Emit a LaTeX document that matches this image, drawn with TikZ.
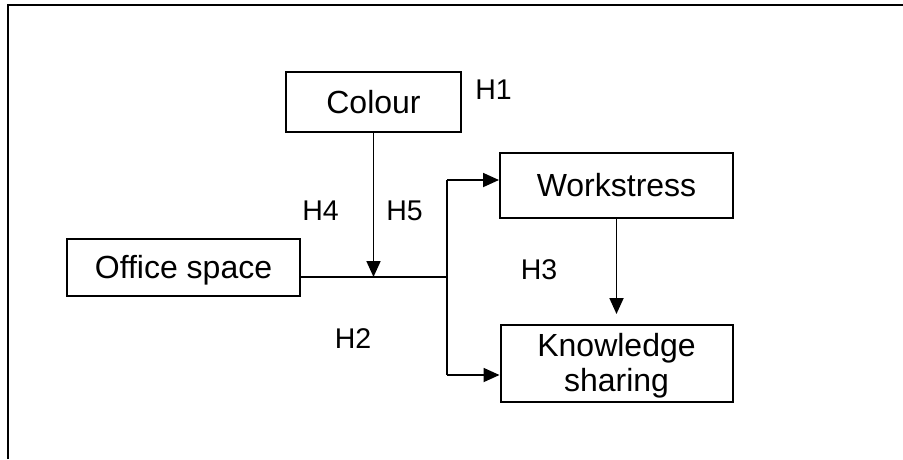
\documentclass[tikz,border=0pt]{standalone}
\usepackage{fontspec}
\setmainfont{Liberation Sans}
\usetikzlibrary{arrows.meta}
\tikzset{
  boxnode/.style={draw=black, line width=2pt, rectangle, inner sep=0pt},
  boxtext/.style={font=\fontsize{32}{35}\selectfont, inner sep=0pt, text height=22.5pt, text depth=0pt},
  hlabel/.style={font=\fontsize{28.5}{32}\selectfont, inner sep=0pt, text height=20pt, text depth=0pt},
  conn/.style={line width=1.8pt},
  arr/.style={line width=1.8pt, -{Triangle[length=16pt,width=14pt]}},
}
\begin{document}
\begin{tikzpicture}[x=1pt,y=-1pt]
\useasboundingbox (0,0) rectangle (903,459);
% outer frame (left and top edges)
\draw[line width=2.2pt] (8,459) -- (8,5) -- (903,5);

% boxes
\node[boxnode, minimum width=175pt, minimum height=60pt] (colour) at (373.5,102) {};
\node[boxtext] (colourt) at (colour) {Colour};
\node[boxnode, minimum width=233pt, minimum height=57pt] (office) at (183.5,267.5) {};
\node[boxtext] (officet) at (office) {Office space};
\node[boxnode, minimum width=233pt, minimum height=65pt] (work) at (616.5,185.5) {};
\node[boxtext] (workt) at (work) {Workstress};
\node[boxnode, minimum width=232pt, minimum height=77pt] (know) at (616.5,363.5) {};
\node[font=\fontsize{32}{35}\selectfont, inner sep=0pt, align=center, yshift=-2pt] (knowt) at (know) {Knowledge\\sharing};

% hypothesis labels
\node[hlabel] (h1) at (493.5,89.5) {H1};
\node[hlabel] (h4) at (320.5,210) {H4};
\node[hlabel] (h5) at (404.5,210) {H5};
\node[hlabel] (h3) at (539,269) {H3};
\node[hlabel] (h2) at (353,338) {H2};

% junction coordinates
\coordinate (j1) at (373.5,277);
\coordinate (j2) at (447,277);
\coordinate (wt) at (447,180);
\coordinate (kb) at (447,375);

% connectors
\draw[conn, line width=1.4pt] (office.east |- j2) -- (j2);
\draw[arr] (colour.south) -- (j1);
\draw[conn] (wt) -- (kb);
\draw[arr] (wt) -- (wt -| work.west);
\draw[arr] (kb) -- (kb -| know.west);
\draw[arr] (work.south) -- ([yshift=10pt]know.north);
\end{tikzpicture}
\end{document}
